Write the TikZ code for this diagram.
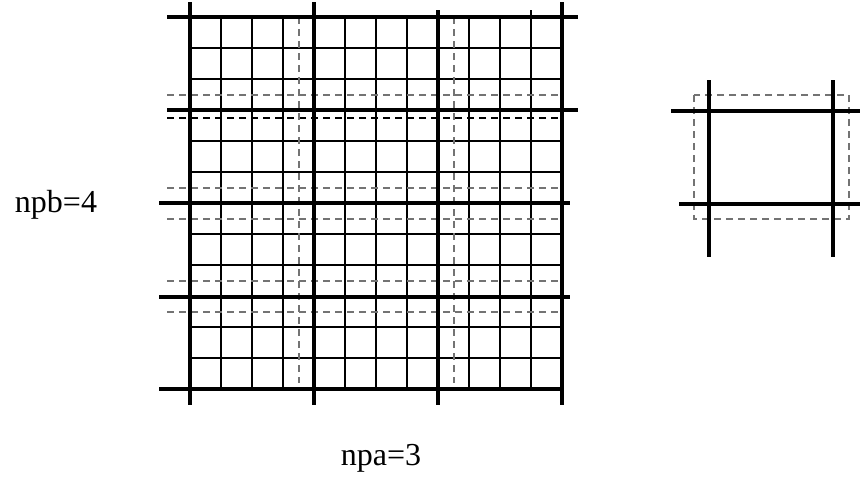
\documentclass[tikz,border=0pt]{standalone}
\usepackage{fontspec}
\setmainfont{Liberation Serif}
\begin{document}
\begin{tikzpicture}[x=1pt,y=-1pt,
  thick line/.style={line width=3.3pt,black},
  thin line/.style={line width=1.2pt,black},
  dash gray/.style={line width=1.2pt,draw=black!55,dash pattern=on 7pt off 5pt},
  dash black/.style={line width=1.2pt,draw=black,dash pattern=on 7pt off 5pt},
  lbl/.style={font=\fontsize{32}{36}\selectfont,inner sep=0pt,anchor=base}]
\useasboundingbox (0,0) rectangle (863,477);
% thin grid
\foreach \i in {1,2,3,5,6,7,9,10} {
  \draw[thin line] ({190+31*\i},17) -- ({190+31*\i},389);
}
\draw[thin line] (531,10) -- (531,389);
\foreach \j in {1,2,4,5,7,8,10,11} {
  \draw[thin line] (190,{17+31*\j}) -- (562,{17+31*\j});
}
% dashed lines
\foreach \y in {95,188,219,281,312} {
  \draw[dash gray] (167,\y) -- (558,\y);
}
\draw[dash black] (167,118) -- (558,118);
\foreach \x in {299,454} {
  \draw[dash gray] (\x,17) -- (\x,383);
}
% thick lines
\draw[thick line] (190,2) -- (190,405);
\draw[thick line] (314,2) -- (314,405);
\draw[thick line] (438,10) -- (438,405);
\draw[thick line] (562,2) -- (562,405);
\draw[thick line] (167,17) -- (578,17);
\draw[thick line] (167,110) -- (578,110);
\draw[thick line] (159,203) -- (570,203);
\draw[thick line] (159,297) -- (570,297);
\draw[thick line] (159,389) -- (562,389);
% right figure
\draw[dash gray] (694,95) rectangle (849,219);
\draw[thick line] (709,80) -- (709,257);
\draw[thick line] (833,80) -- (833,257);
\draw[thick line] (671,111) -- (860,111);
\draw[thick line] (679,204) -- (860,204);
% labels
\node[lbl] (npb) at (56,212) {npb=4};
\node[lbl] (npa) at (381,465) {npa=3};
\end{tikzpicture}
\end{document}
